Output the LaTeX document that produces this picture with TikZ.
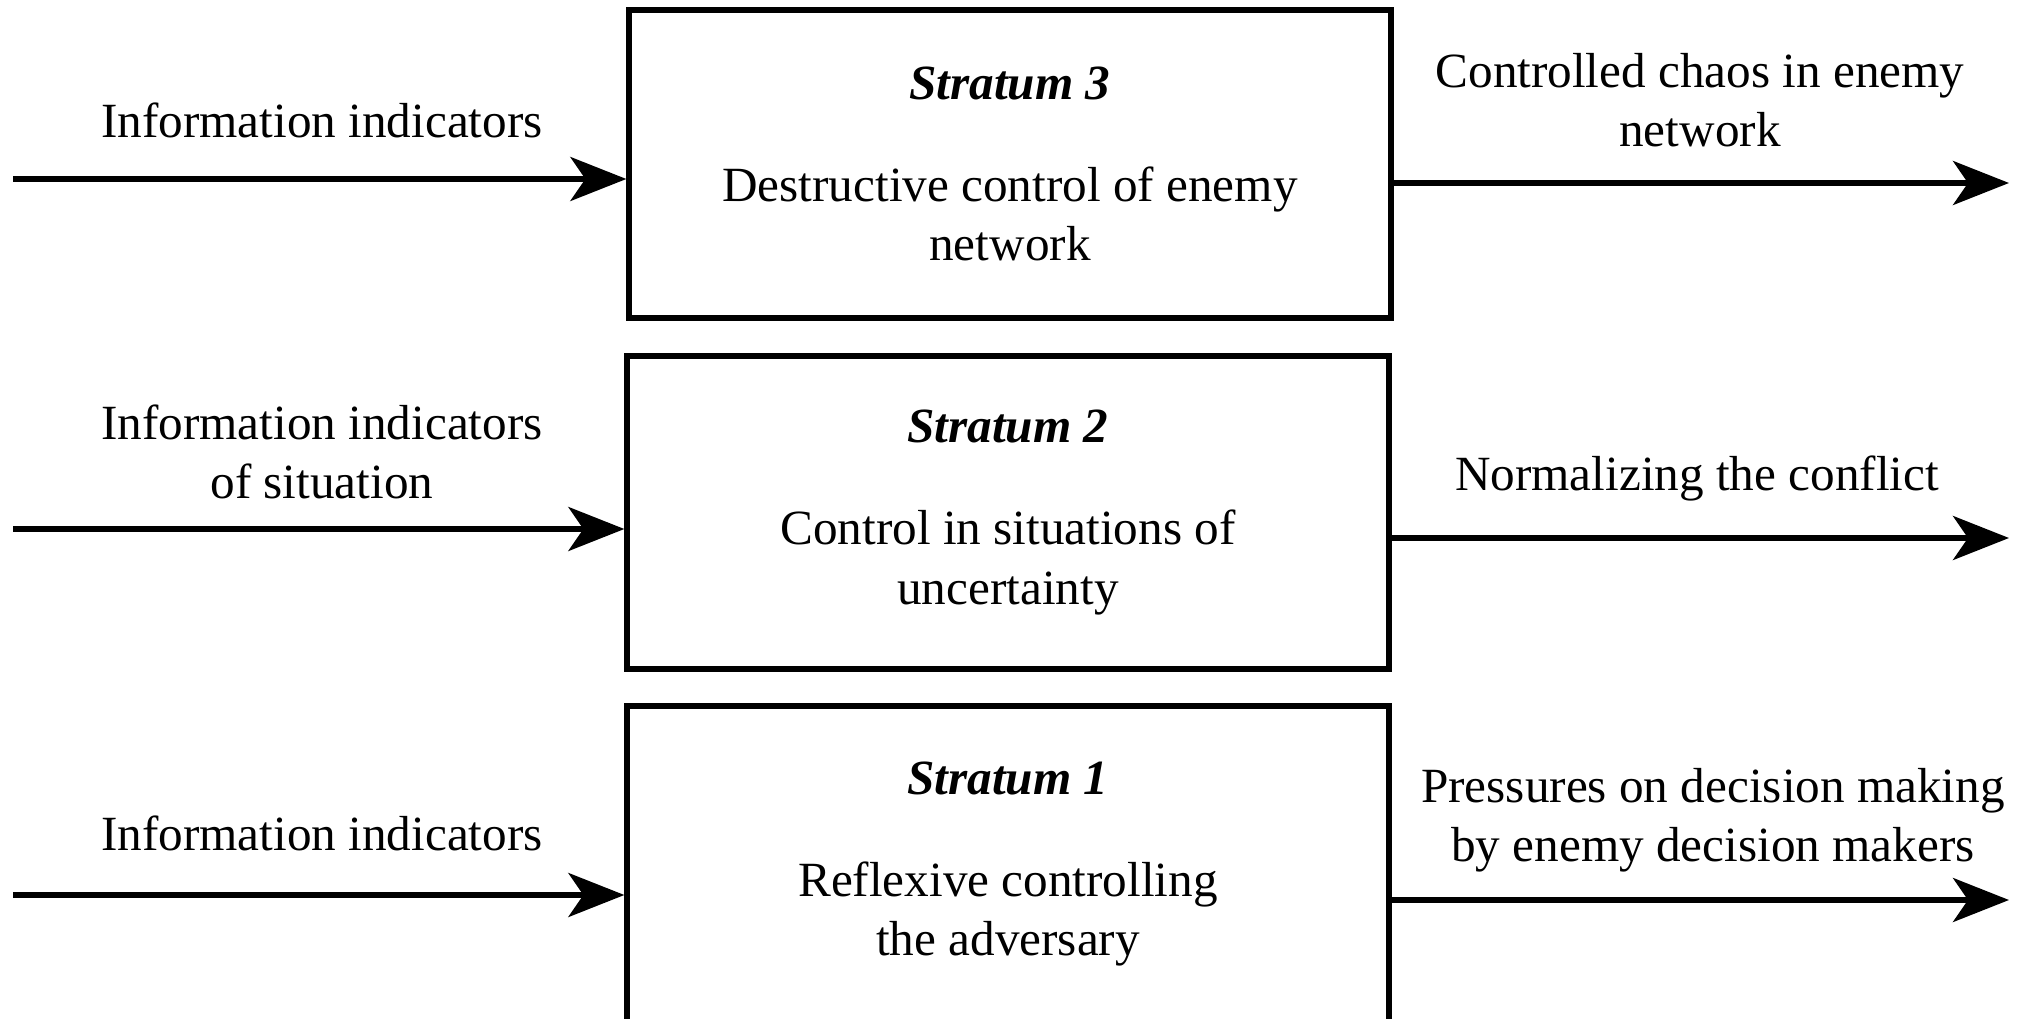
\documentclass[tikz,border=0pt]{standalone}
\usepackage{fontspec}
\setmainfont{Liberation Serif}
\usetikzlibrary{arrows.meta}

\tikzset{
  stratum/.style = {draw, line width = 1.5pt, minimum width = 7.62cm, minimum height = 3.1cm, align = center, inner sep = 0pt},
  flow/.style = {line width = 1.5pt, -{Stealth[length = 5.6mm, width = 4.4mm, inset = 1.5mm]}},
  lbl/.style = {align = center}
}

\begin{document}
\begin{tikzpicture}[font = \fontsize{14}{16.8}\selectfont]
\useasboundingbox (0,0) rectangle (20.2,10.18);
% the three strata
\node [stratum, minimum height = 3.08cm] (s3) at (10.1, 8.54) {\textbf{\textit{Stratum 3}}\\[4.3mm] Destructive control of enemy\\ network};
\node [stratum, minimum height = 3.13cm] (s2) at (10.08, 5.055) {\textbf{\textit{Stratum 2}}\\[4.3mm] Control in situations of\\ uncertainty};
\node [stratum, minimum height = 3.16cm] (s1) at (10.08, 1.54) {\textbf{\textit{Stratum 1}}\\[4.3mm] Reflexive controlling\\ the adversary};
% ends of the arrows
\coordinate (in3) at (0.13, 8.39);
\coordinate (in2) at (0.13, 4.89);
\coordinate (in1) at (0.13, 1.23);
\coordinate (out3) at (20.09, 8.35);
\coordinate (out2) at (20.09, 4.80);
\coordinate (out1) at (20.09, 1.18);
\draw [flow] (in3) -- (in3 -| s3.west);
\draw [flow] (in2) -- (in2 -| s2.west);
\draw [flow] (in1) -- (in1 -| s1.west);
\draw [flow] (s3.east |- out3) -- (out3);
\draw [flow] (s2.east |- out2) -- (out2);
\draw [flow] (s1.east |- out1) -- (out1);
% labels left and right
\node [lbl] (l3) at (3.22, 8.98) {Information indicators};
\node [lbl] (l2) at (3.22, 5.66) {Information indicators\\ of situation};
\node [lbl] (l1) at (3.22, 1.85) {Information indicators};
\node [lbl] (r3) at (17.0, 9.18) {Controlled chaos in enemy\\ network};
\node [lbl] (r2) at (16.97, 5.40) {Normalizing the conflict};
\node [lbl] (r1) at (17.13, 1.98) {Pressures on decision making\\ by enemy decision makers};
\end{tikzpicture}
\end{document}
